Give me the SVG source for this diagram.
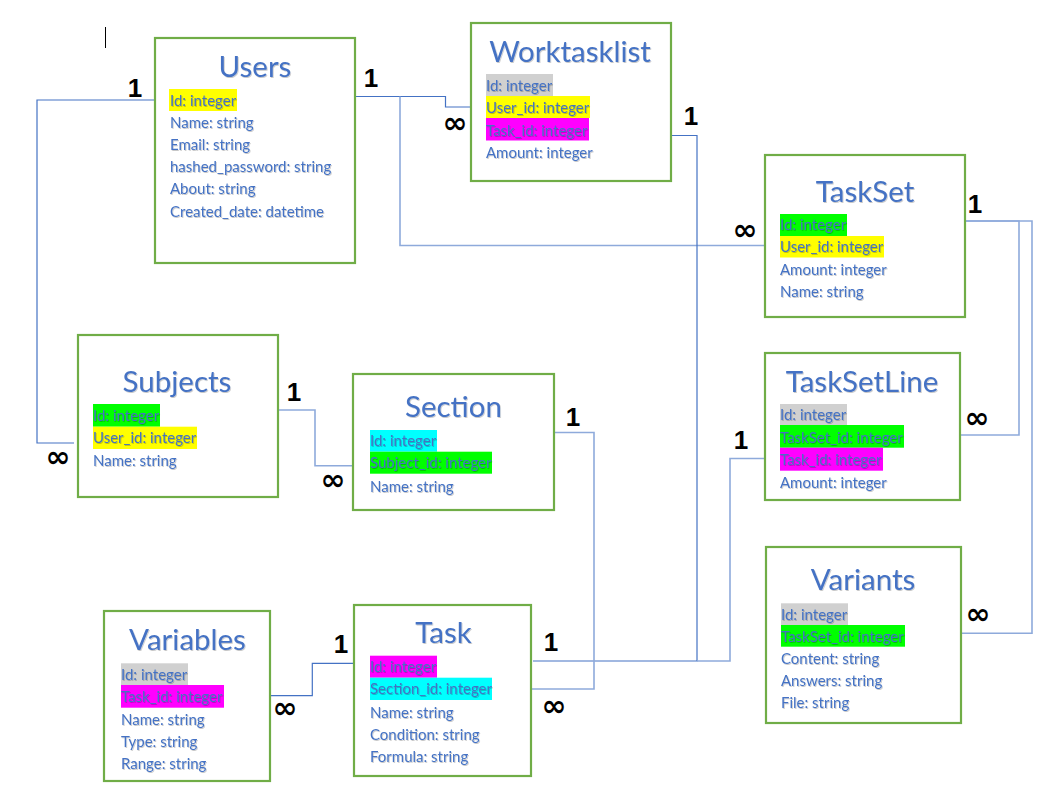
<svg xmlns="http://www.w3.org/2000/svg" width="1057" height="801" viewBox="0 0 1057 801">
<defs>
<filter id="sh" x="-5%" y="-20%" width="115%" height="150%">
<feDropShadow dx="0.8" dy="1" stdDeviation="0.7" flood-color="#000" flood-opacity="0.22"/>
</filter>
</defs>
<style>
.box{fill:#fff;stroke:#70AD47;stroke-width:2.2}
.t{font-family:Lato,"Open Sans","Liberation Sans",sans-serif;font-size:29.5px;fill:#4472C4;text-anchor:middle;filter:url(#sh)}
.f{font-family:Lato,"Open Sans","Liberation Sans",sans-serif;font-size:15px;fill:#4472C4;filter:url(#sh)}
.c{fill:none;stroke:#4472C4;stroke-width:1.2}
.cl{fill:none;stroke:#8EAADB;stroke-width:1.6}
.one{font-family:"Liberation Sans",Arial,sans-serif;font-weight:bold;font-size:26px;fill:#000;text-anchor:middle}
.inf{font-family:"DejaVu Sans",sans-serif;font-weight:bold;font-size:30px;fill:#000;text-anchor:middle}
.y{fill:#FFFF00}.g{fill:#00FF00}.m{fill:#FF00FF}.gr{fill:#D0D0D0}.cy{fill:#00FFFF}
</style>
<rect width="1057" height="801" fill="#fff"/>
<line x1="105.5" y1="27" x2="105.5" y2="48" stroke="#000" stroke-width="1"/>

<g id="connectors">
<path class="c" d="M157,100 H37 V443 H74"/>
<path class="c" d="M352,96.5 H445.5 V107 H471"/>
<path class="cl" d="M400,96.5 V245.5 H764"/>
<path class="c" d="M671,135.5 H697 V661 H533"/>
<path class="cl" d="M697,661 H730 V458.5 H765"/>
<path class="cl" d="M554,432.5 H594 V689 H531"/>
<path class="cl" d="M277,410 H315 V465.7 H353"/>
<path class="c" d="M270,695.7 H312.3 V663.3 H354"/>
<path class="cl" d="M966,221 H1019 V435 H958"/>
<path class="cl" d="M966,221 H1032 V633.3 H958"/>
</g>

<g id="labels">
<text class="one" x="135" y="97">1</text>
<text class="one" x="371" y="87">1</text>
<text class="inf" x="455" y="133">∞</text>
<text class="one" x="691" y="125">1</text>
<text class="one" x="975" y="213">1</text>
<text class="inf" x="745" y="240">∞</text>
<text class="inf" x="977" y="428">∞</text>
<text class="one" x="741" y="449">1</text>
<text class="one" x="294" y="401">1</text>
<text class="inf" x="58" y="467">∞</text>
<text class="inf" x="333" y="490">∞</text>
<text class="one" x="573" y="426">1</text>
<text class="one" x="341" y="653">1</text>
<text class="inf" x="285" y="718">∞</text>
<text class="one" x="551" y="651">1</text>
<text class="inf" x="554" y="716">∞</text>
<text class="inf" x="978" y="624">∞</text>
</g>

<g id="users">
<rect class="box" x="155" y="38" width="200" height="225"/>
<text class="t" x="255" y="77">Users</text>
<rect class="y" x="169" y="89" width="68" height="22"/>
<text class="f" x="170" y="105.5">Id: integer</text>
<text class="f" x="170" y="127.7">Name: string</text>
<text class="f" x="170" y="150">Email: string</text>
<text class="f" x="170" y="172.2">hashed_password: string</text>
<text class="f" x="170" y="194.4">About: string</text>
<text class="f" x="170" y="216.6">Created_date: datetime</text>
</g>

<g id="worktasklist">
<rect class="box" x="471" y="23" width="200" height="158"/>
<text class="t" x="570" y="62">Worktasklist</text>
<rect class="gr" x="486" y="74" width="67" height="22"/>
<rect class="y" x="486" y="96" width="104" height="22"/>
<rect class="m" x="486" y="118" width="103" height="22.5"/>
<text class="f" x="486" y="90.5">Id: integer</text>
<text class="f" x="486" y="113">User_id: integer</text>
<text class="f" x="486" y="135.5">Task_id: integer</text>
<text class="f" x="486" y="158">Amount: integer</text>
</g>

<g id="taskset">
<rect class="box" x="765" y="155" width="200" height="162"/>
<text class="t" x="865" y="201.7">TaskSet</text>
<rect class="g" x="780" y="214" width="67" height="22"/>
<rect class="y" x="780" y="236" width="104" height="21.5"/>
<text class="f" x="780" y="230">Id: integer</text>
<text class="f" x="780" y="252.3">User_id: integer</text>
<text class="f" x="780" y="274.7">Amount: integer</text>
<text class="f" x="780" y="297">Name: string</text>
</g>

<g id="tasksetline">
<rect class="box" x="765" y="353" width="195" height="147"/>
<text class="t" x="862" y="391.7">TaskSetLine</text>
<rect class="gr" x="780" y="404" width="67" height="21"/>
<rect class="g" x="780" y="425" width="124" height="22.7"/>
<rect class="m" x="780" y="447.7" width="103" height="23"/>
<text class="f" x="780" y="420">Id: integer</text>
<text class="f" x="780" y="442.5">TaskSet_id: integer</text>
<text class="f" x="780" y="465">Task_id: integer</text>
<text class="f" x="780" y="488">Amount: integer</text>
</g>

<g id="subjects">
<rect class="box" x="78" y="335" width="200" height="162"/>
<text class="t" x="177" y="391.7">Subjects</text>
<rect class="g" x="93" y="404" width="67" height="22.7"/>
<rect class="y" x="93" y="426.7" width="104" height="22.3"/>
<text class="f" x="93" y="420.5">Id: integer</text>
<text class="f" x="93" y="443">User_id: integer</text>
<text class="f" x="93" y="465.5">Name: string</text>
</g>

<g id="section">
<rect class="box" x="353" y="374" width="201" height="136"/>
<text class="t" x="453.5" y="417.3">Section</text>
<rect class="cy" x="370" y="430" width="67" height="21.7"/>
<rect class="g" x="370" y="451.7" width="122" height="22"/>
<text class="f" x="370" y="446">Id: integer</text>
<text class="f" x="370" y="468.3">Subject_id: integer</text>
<text class="f" x="370" y="492">Name: string</text>
</g>

<g id="variables">
<rect class="box" x="104" y="611" width="166" height="170"/>
<text class="t" x="187.5" y="650">Variables</text>
<rect class="gr" x="121" y="663.3" width="67" height="21.7"/>
<rect class="m" x="121" y="685" width="103" height="22.7"/>
<text class="f" x="121" y="679.5">Id: integer</text>
<text class="f" x="121" y="701.7">Task_id: integer</text>
<text class="f" x="121" y="724.5">Name: string</text>
<text class="f" x="121" y="747">Type: string</text>
<text class="f" x="121" y="768.5">Range: string</text>
</g>

<g id="task">
<rect class="box" x="354" y="605" width="177" height="171"/>
<text class="t" x="443.5" y="643.3">Task</text>
<rect class="m" x="370" y="655.7" width="67" height="22"/>
<rect class="cy" x="370" y="677.7" width="122" height="22.3"/>
<text class="f" x="370" y="671.7">Id: integer</text>
<text class="f" x="370" y="694">Section_id: integer</text>
<text class="f" x="370" y="718">Name: string</text>
<text class="f" x="370" y="740">Condition: string</text>
<text class="f" x="370" y="761.5">Formula: string</text>
</g>

<g id="variants">
<rect class="box" x="766" y="547" width="195" height="176"/>
<text class="t" x="863" y="590">Variants</text>
<rect class="gr" x="781" y="603.3" width="67" height="21.7"/>
<rect class="g" x="781" y="625" width="124" height="21.7"/>
<text class="f" x="781" y="619.5">Id: integer</text>
<text class="f" x="781" y="641.7">TaskSet_id: integer</text>
<text class="f" x="781" y="664">Content: string</text>
<text class="f" x="781" y="686.2">Answers: string</text>
<text class="f" x="781" y="708.3">File: string</text>
</g>
</svg>
